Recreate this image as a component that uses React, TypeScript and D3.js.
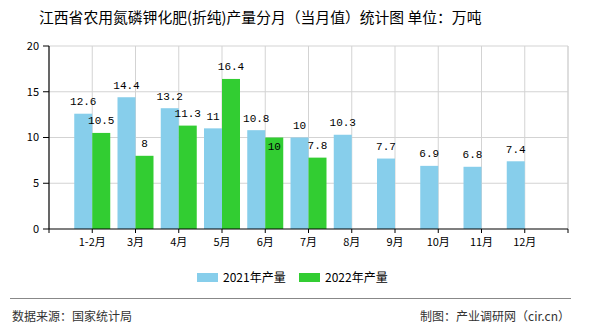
import React from "react";
import * as d3 from "d3";

const categories = ["1-2月", "3月", "4月", "5月", "6月", "7月", "8月", "9月", "10月", "11月", "12月"];
const values2021 = [12.6, 14.4, 13.2, 11, 10.8, 10, 10.3, 7.7, 6.9, 6.8, 7.4];
const values2022: (number | null)[] = [10.5, 8, 11.3, 16.4, 10, 7.8, null, null, null, null, null];
const yTicks = [0, 5, 10, 15, 20];
const seriesNames = ["2021年产量", "2022年产量"];
const colors = ["#87CEEB", "#32CD32"];

const W = 590, H = 330;
const left = 49, right = 568, top = 46, bottom = 229;
const numFont = "'Liberation Mono', 'DejaVu Sans Mono', monospace";
const cjkFont = "'Noto Sans CJK SC', 'Noto Sans', sans-serif";

export default function App() {
  const x = d3.scaleLinear().domain([0, categories.length + 1]).range([left, right]);
  const y = d3.scaleLinear().domain([0, 20]).range([bottom, top]);
  const bw = 18;
  const gridX = d3.range(1, categories.length + 2);

  const labelW = (v: number) => String(v).length * 6.6;

  return (
    <svg width={W} height={H} style={{ position: "absolute", left: 0, top: 0, background: "#fff" }}>
      <text x={39} y={23} fontFamily={cjkFont} fontSize={14.8} fill="#000">
        江西省农用氮磷钾化肥(折纯)产量分月（当月值）统计图 单位：万吨
      </text>
      {/* grid */}
      {yTicks.filter(t => t > 0).map(t => (
        <line key={"gy" + t} x1={left} x2={right} y1={y(t)} y2={y(t)} stroke="#d3d3d3" strokeWidth={1} />
      ))}
      {gridX.map(k => (
        <line key={"gx" + k} x1={x(k)} x2={x(k)} y1={top} y2={bottom} stroke="#d3d3d3" strokeWidth={1} />
      ))}
      {/* bars */}
      {categories.map((c, i) => {
        const cx = x(i + 1);
        const v1 = values2021[i];
        const v2 = values2022[i];
        return (
          <g key={c}>
            <rect x={cx - bw} y={y(v1)} width={bw} height={y(0) - y(v1)} fill={colors[0]} />
            {v2 != null && (
              <rect x={cx} y={y(v2)} width={bw} height={y(0) - y(v2)} fill={colors[1]} />
            )}
          </g>
        );
      })}
      {/* labels */}
      {categories.map((c, i) => {
        const cx = x(i + 1);
        const v1 = values2021[i];
        const v2 = values2022[i];
        const l1y = y(v1) - 12.5;
        let l2y = v2 != null ? y(v2) - 12.5 : 0;
        if (v2 != null) {
          const l1x0 = cx - bw / 2 - labelW(v1) / 2, l1x1 = cx - bw / 2 + labelW(v1) / 2;
          const l2x0 = cx + bw / 2 - labelW(v2) / 2;
          const overlapX = l2x0 < l1x1 && l1x0 < cx + bw / 2 + labelW(v2) / 2;
          if (overlapX && Math.abs(l2y - l1y) < 12) l2y = y(v2) + 8.5;
        }
        return (
          <g key={"l" + c} fontFamily={numFont} fontSize={11} fill="#000" textAnchor="middle">
            <text x={cx - bw / 2} y={l1y} dy="0.35em">{v1}</text>
            {v2 != null && <text x={cx + bw / 2} y={l2y} dy="0.35em">{v2}</text>}
          </g>
        );
      })}
      {/* right border */}
      <line x1={right} x2={right} y1={top} y2={bottom} stroke="#d3d3d3" />
      {/* axes */}
      <line x1={left} x2={left} y1={top} y2={bottom} stroke="#000" strokeWidth={1.2} />
      <line x1={left} x2={right} y1={bottom} y2={bottom} stroke="#000" strokeWidth={1.2} />
      {yTicks.map(t => (
        <g key={"yt" + t}>
          <line x1={left - 6} x2={left} y1={y(t)} y2={y(t)} stroke="#000" />
          <text x={39} y={y(t)} dy="0.35em" textAnchor="end" fontFamily={cjkFont} fontSize={11} fill="#000">{t}</text>
        </g>
      ))}
      {d3.range(0, categories.length + 2).map(k => (
        <line key={"xt" + k} x1={x(k)} x2={x(k)} y1={bottom} y2={bottom + 4} stroke="#000" />
      ))}
      {categories.map((c, i) => (
        <text key={"xl" + c} x={x(i + 1)} y={242} dy="0.35em" textAnchor="middle" fontFamily={cjkFont} fontSize={11} fill="#000">{c}</text>
      ))}
      {/* legend */}
      {seriesNames.map((s, i) => {
        const lx = 197 + i * 102;
        return (
          <g key={s}>
            <rect x={lx} y={273} width={21} height={9} fill={colors[i]} />
            <text x={lx + 26} y={277.5} dy="0.35em" fontFamily={cjkFont} fontSize={12} fill="#000">{s}</text>
          </g>
        );
      })}
      {/* footer */}
      <line x1={10} x2={571} y1={298.5} y2={298.5} stroke="#888" strokeWidth={1} />
      <text x={12} y={316.5} dy="0.35em" fontFamily={cjkFont} fontSize={12} fill="#333">数据来源：国家统计局</text>
      <text x={570} y={316.5} dy="0.35em" textAnchor="end" fontFamily={cjkFont} fontSize={12} fill="#333">制图：产业调研网（cir.cn）</text>
    </svg>
  );
}
